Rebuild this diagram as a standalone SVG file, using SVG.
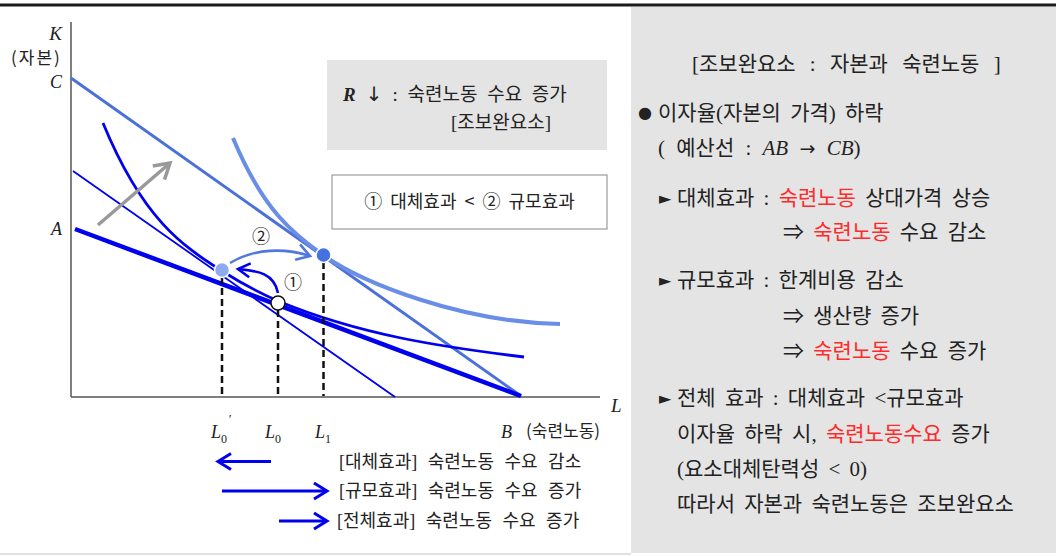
<svg xmlns="http://www.w3.org/2000/svg" width="1056" height="556" viewBox="0 0 1056 556">
<style>
.kr{font-family:"Liberation Serif","Noto Sans CJK KR",serif;fill:#222}
.ks{font-family:"Noto Sans CJK KR",sans-serif;fill:#222}
.it{font-family:"Liberation Serif",serif;font-style:italic;fill:#222}
.tri{font-family:"DejaVu Sans",sans-serif;fill:#222}
.red{fill:#ff2a2a}
.dash{stroke:#111;stroke-width:2.5;stroke-dasharray:7 4;fill:none}
.blue{stroke:#0000ee;fill:none}
</style>
<defs>
<marker id="mb" viewBox="0 0 16 18" refX="14" refY="9" markerWidth="16" markerHeight="18" markerUnits="userSpaceOnUse" orient="auto" overflow="visible">
<path d="M1,1 L14,9 L1,17" fill="none" stroke="#0000ee" stroke-width="3"/>
</marker>
<marker id="mb2" viewBox="0 0 14 16" refX="13" refY="8" markerWidth="14" markerHeight="16" markerUnits="userSpaceOnUse" orient="auto" overflow="visible">
<path d="M1,1 L13,8 L1,15" fill="none" stroke="#0000ee" stroke-width="2.6"/>
</marker>
<marker id="ml" viewBox="0 0 16 18" refX="14" refY="9" markerWidth="16" markerHeight="18" markerUnits="userSpaceOnUse" orient="auto" overflow="visible">
<path d="M1,1 L14,9 L1,17" fill="none" stroke="#4f78e0" stroke-width="2.6"/>
</marker>
<marker id="mg" viewBox="0 0 18 20" refX="16" refY="10" markerWidth="18" markerHeight="20" markerUnits="userSpaceOnUse" orient="auto" overflow="visible">
<path d="M1,1 L16,10 L1,19" fill="none" stroke="#999" stroke-width="3.5"/>
</marker>
</defs>

<rect x="0" y="0" width="1056" height="556" fill="#fff"/>
<line x1="0" y1="5" x2="1056" y2="5" stroke="#1a1a1a" stroke-width="3"/>
<rect x="631" y="7" width="425" height="546" fill="#e4e4e4"/>
<line x1="0" y1="554" x2="631" y2="554" stroke="#e2e2e2" stroke-width="2"/>

<g id="axes">
<line x1="71" y1="22" x2="71" y2="397" stroke="#555" stroke-width="1.5"/>
<line x1="71" y1="397" x2="600" y2="397" stroke="#555" stroke-width="1.5"/>
<text class="it" x="62" y="40" font-size="19" text-anchor="end">K</text>
<text class="ks" x="11" y="64" font-size="17" letter-spacing="2">(자본)</text>
<text class="it" x="62" y="88" font-size="18" text-anchor="end">C</text>
<text class="it" x="62" y="235" font-size="18" text-anchor="end">A</text>
<text class="it" x="611" y="412" font-size="19">L</text>
<text class="it" x="211" y="438" font-size="18">L<tspan font-size="12" font-style="normal" dy="5">0</tspan></text>
<text class="it" x="228" y="423" font-size="13">′</text>
<text class="it" x="265" y="438" font-size="18">L<tspan font-size="12" font-style="normal" dy="5">0</tspan></text>
<text class="it" x="315" y="438" font-size="18">L<tspan font-size="12" font-style="normal" dy="5">1</tspan></text>
<text class="it" x="501" y="438" font-size="18">B</text>
<text class="ks" x="526" y="437" font-size="17">(숙련노동)</text>
</g>

<g id="connectors">
<line id="budget-CB" x1="71" y1="78" x2="521" y2="396" stroke="#4a70da" stroke-width="3"/>
<line id="budget-AB" x1="75" y1="229" x2="521" y2="396" stroke="#0000ee" stroke-width="4.5"/>
<line id="thin-parallel" x1="73" y1="171" x2="395" y2="397" stroke="#0000ee" stroke-width="1.8"/>
<path id="isoquant-0" class="blue" stroke-width="2.8" d="M103,123 C142.7,219.2 182.3,245.7 222,271 C240.7,282.9 259.3,292.8 278,301 C360,335 442,347 524,357"/>
<path id="isoquant-1" d="M233,138 C263,210 293,233.8 323,255 C363,283 460,322 560,324" fill="none" stroke="#6a8ee8" stroke-width="4"/>
<line x1="98" y1="225" x2="170" y2="163" stroke="#999" stroke-width="3.5" marker-end="url(#mg)"/>
<line class="dash" x1="222" y1="277" x2="222" y2="396"/>
<line class="dash" x1="278" y1="310" x2="278" y2="396"/>
<line class="dash" x1="323.5" y1="262" x2="323.5" y2="396"/>
<path d="M278,293 C274,272 256,271 238,269" class="blue" stroke-width="2.6" marker-end="url(#mb2)"/>
<path d="M230,263 C255,248 285,248 310,256" fill="none" stroke="#4f78e0" stroke-width="2.6" marker-end="url(#ml)"/>
<line x1="271" y1="461.5" x2="218" y2="461.5" stroke="#0000ee" stroke-width="3" marker-end="url(#mb)"/>
<line x1="222" y1="491" x2="327" y2="491" stroke="#0000ee" stroke-width="3" marker-end="url(#mb)"/>
<line x1="279" y1="521" x2="327" y2="521" stroke="#0000ee" stroke-width="3" marker-end="url(#mb)"/>
</g>

<g id="point-L0prime"><circle cx="222" cy="270" r="7.5" fill="#8eaaf0" stroke="#fff" stroke-width="1.5"/></g>
<g id="point-L0"><circle cx="278" cy="303" r="7" fill="#fff" stroke="#111" stroke-width="1.5"/></g>
<g id="point-L1"><circle cx="323.5" cy="255" r="7.5" fill="#4472e0" stroke="#fff" stroke-width="1.5"/></g>
<g id="label-2"><text class="ks" x="261" y="243" font-size="18" text-anchor="middle">②</text></g>
<g id="label-1"><text class="ks" x="293" y="289" font-size="18" text-anchor="middle">①</text></g>

<g id="rate-box">
<rect x="327" y="60" width="280" height="90" fill="#e4e4e4"/>
<text x="343" y="101" font-size="19"><tspan class="it" font-weight="bold">R</tspan><tspan class="tri" dx="10" font-size="20">↓</tspan><tspan class="kr" dx="10" word-spacing="5">: 숙련노동 수요 증가</tspan></text>
<text class="kr" x="451" y="129" font-size="19">[조보완요소]</text>
</g>

<g id="compare-box">
<rect x="332" y="175" width="275" height="54" fill="#fff" stroke="#888" stroke-width="1"/>
<text class="ks" x="469.5" y="208" font-size="18" text-anchor="middle" word-spacing="4">① 대체효과 &lt; ② 규모효과</text>
</g>

<g id="legend">
<text class="kr" x="339" y="468" font-size="18" word-spacing="6">[대체효과] 숙련노동 수요 감소</text>
<text class="kr" x="339" y="497" font-size="18" word-spacing="6">[규모효과] 숙련노동 수요 증가</text>
<text class="kr" x="337" y="527" font-size="18" word-spacing="6">[전체효과] 숙련노동 수요 증가</text>
</g>

<g id="panel" font-size="21" word-spacing="4">
<text class="kr" x="692" y="71" word-spacing="9">[조보완요소 : 자본과 숙련노동 ]</text>
<text class="tri" x="638" y="118" font-size="16">●</text>
<text class="kr" x="658" y="120">이자율(자본의 가격) 하락</text>
<text class="kr" x="658" y="155" word-spacing="6">( 예산선 : <tspan class="it">AB</tspan> <tspan class="tri" font-size="19">→</tspan> <tspan class="it">CB</tspan>)</text>
<text class="tri" x="659" y="204" font-size="16">►</text>
<text class="kr" x="677" y="205">대체효과 : <tspan class="red">숙련노동</tspan> 상대가격 상승</text>
<text class="kr" x="783" y="239">⇒ <tspan class="red">숙련노동</tspan> 수요 감소</text>
<text class="tri" x="659" y="286" font-size="16">►</text>
<text class="kr" x="677" y="287">규모효과 : 한계비용 감소</text>
<text class="kr" x="783" y="323">⇒ 생산량 증가</text>
<text class="kr" x="783" y="358">⇒ <tspan class="red">숙련노동</tspan> 수요 증가</text>
<text class="tri" x="659" y="404" font-size="16">►</text>
<text class="kr" x="677" y="405">전체 효과 : 대체효과 &lt;규모효과</text>
<text class="kr" x="677" y="441">이자율 하락 시, <tspan class="red">숙련노동수요</tspan> 증가</text>
<text class="kr" x="677" y="476">(요소대체탄력성 &lt; 0)</text>
<text class="kr" x="677" y="511">따라서 자본과 숙련노동은 조보완요소</text>
</g>
</svg>
